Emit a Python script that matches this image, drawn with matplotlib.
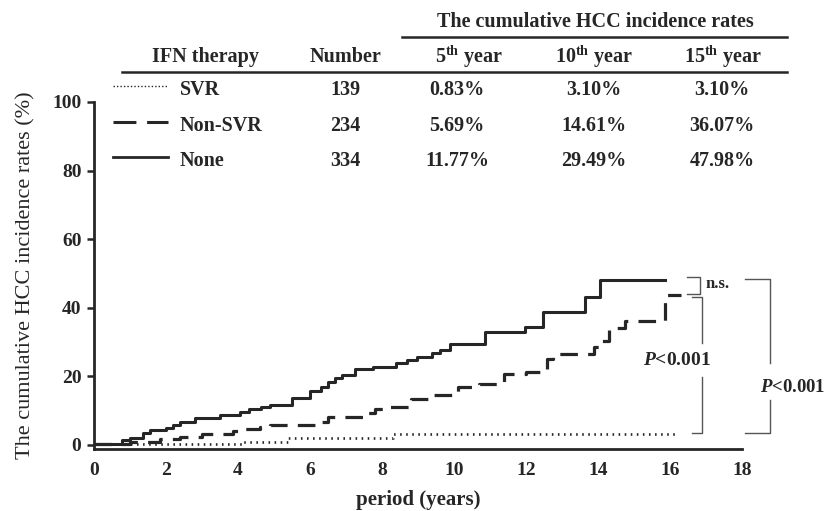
import matplotlib
matplotlib.use("Agg")
import matplotlib.pyplot as plt
from matplotlib.lines import Line2D

plt.rcParams['font.family'] = ['Liberation Serif', 'DejaVu Serif']
plt.rcParams['mathtext.fontset'] = 'custom'
plt.rcParams['mathtext.rm'] = 'Liberation Serif:bold'
plt.rcParams['mathtext.it'] = 'Liberation Serif:italic:bold'
plt.rcParams['mathtext.bf'] = 'Liberation Serif:bold'

INK = '#262626'

# ---- data ----
none_t = [0, 0.78, 1.0, 1.36, 1.55, 2.0, 2.2, 2.4, 2.8, 3.5, 4.05, 4.3, 4.65, 4.9, 5.5,
          6.0, 6.3, 6.5, 6.7, 6.9, 7.25, 7.75, 8.4, 8.7, 8.97, 9.4, 9.6, 9.88, 10.86,
          11.97, 12.47, 13.64, 14.05, 15.86]
none_v = [0.3, 1.4, 2.1, 3.4, 4.3, 4.9, 5.7, 6.6, 7.8, 8.6, 9.6, 10.5, 11.0, 11.77, 13.6,
          15.8, 16.8, 18.3, 19.5, 20.3, 22.0, 22.6, 23.8, 24.7, 25.7, 26.7, 27.6, 29.49, 32.8,
          34.5, 38.8, 43.1, 47.98, 47.98]

nonsvr_t = [0, 1.0, 1.83, 2.4, 3.0, 3.85, 4.1, 4.6, 4.9, 6.2, 6.5, 7.5, 7.8, 8.1, 8.8,
            9.4, 10.1, 10.7, 11.4, 12.0, 12.58, 12.75, 13.9, 14.05, 14.3, 14.75, 15.86, 16.3]
nonsvr_v = [0.3, 0.7, 1.7, 2.4, 3.2, 4.0, 4.6, 5.2, 5.69, 6.7, 8.0, 9.2, 10.6, 11.0, 13.5,
            14.61, 16.8, 17.9, 20.7, 21.2, 25.0, 26.4, 28.5, 30.2, 34.0, 36.07, 43.7, 43.7]

svr_t = [0, 4.1, 5.4, 8.3, 16.2]
svr_v = [0.3, 0.83, 2.1, 3.1, 3.1]

groups = ['SVR', 'Non-SVR', 'None']
numbers = ['139', '234', '334']
rate_cols = ['5$^{\\mathrm{th}}$ year', '10$^{\\mathrm{th}}$ year', '15$^{\\mathrm{th}}$ year']
rates = [['0.83%', '3.10%', '3.10%'],
         ['5.69%', '14.61%', '36.07%'],
         ['11.77%', '29.49%', '47.98%']]

xticks = [0, 2, 4, 6, 8, 10, 12, 14, 16, 18]
yticks = [0, 20, 40, 60, 80, 100]

W, H = 827, 511
fig = plt.figure(figsize=(W / 100, H / 100), dpi=100)

def fx(px):
    return px / W

def fy(py):
    return 1 - py / H

ax = fig.add_axes([fx(94), fy(449), fx(742) - fx(94), fy(102) - fy(449)])
ax.set_xlim(0, 18)
ax.set_ylim(-1.2, 100)

styles = {
    'None': dict(color=INK, lw=2.2, linestyle='-'),
    'Non-SVR': dict(color=INK, lw=2.3, linestyle=(0, (5.5, 3.2))),
    'SVR': dict(color=INK, lw=1.9, linestyle=(0, (0.6, 1.7))),
}
ax.step(svr_t, svr_v, where='post', **styles['SVR'])
ax.step(nonsvr_t, nonsvr_v, where='post', **styles['Non-SVR'])
ax.step(none_t, none_v, where='post', **styles['None'])

for s in ['top', 'right']:
    ax.spines[s].set_visible(False)
for s in ['left', 'bottom']:
    ax.spines[s].set_linewidth(2.0)
    ax.spines[s].set_color(INK)
ax.spines['left'].set_bounds(-1.2, 100)

ax.set_xticks(xticks)
ax.set_yticks(yticks)
ax.tick_params(axis='x', length=0, pad=9, labelsize=14, colors=INK)
ax.tick_params(axis='y', length=5, width=1.8, pad=4, labelsize=14, colors=INK, direction='out')
for lab in ax.get_xticklabels() + ax.get_yticklabels():
    lab.set_fontweight('bold')

ax.set_xlabel('period (years)', fontsize=15, fontweight='bold', color=INK, labelpad=8)
ax.set_ylabel('The cumulative HCC incidence rates (%)', fontsize=16, color=INK, labelpad=12)

# ---- significance brackets ----
bk = dict(color='#555555', lw=1.0, clip_on=False)
# n.s.
ax.plot([16.47, 16.83, 16.83, 16.47], [48.9, 48.9, 43.9, 43.9], **bk)
ax.text(17.0, 47.0, 'n.s.', fontsize=12, fontweight='bold', color=INK, va='center', ha='left')
# inner
ax.plot([16.6, 16.9, 16.9], [43.2, 43.2, 29.6], **bk)
ax.plot([16.9, 16.9, 16.6], [19.8, 3.5, 3.5], **bk)
ax.text(16.2, 24.5, '$P$<0.001', fontsize=14, fontweight='bold', color=INK, va='center', ha='center')
# outer
ax.plot([18.08, 18.78, 18.78], [48.4, 48.4, 24.0], **bk)
ax.plot([18.78, 18.78, 18.08], [13.0, 3.4, 3.4], **bk)
fig.text(fx(825), fy(387), '$P$<0.001', fontsize=13.5, fontweight='bold', color=INK,
         va='center', ha='right')

# ---- table ----
tk = dict(fontsize=14.5, fontweight='bold', color=INK, va='center')
fig.text(fx(595), fy(22), 'The cumulative HCC incidence rates', ha='center', **tk)
fig.add_artist(Line2D([fx(402), fx(787)], [fy(37), fy(37)], color=INK, lw=1.8))
fig.text(fx(205), fy(57), 'IFN therapy', ha='center', **tk)
fig.text(fx(345), fy(57), 'Number', ha='center', **tk)
col_x = [457, 594, 722]
head_x = [469, 594, 723]
for hx, h in zip(head_x, rate_cols):
    fig.text(fx(hx), fy(57), h, ha='center', **tk)
fig.add_artist(Line2D([fx(122), fx(787)], [fy(72), fy(72)], color=INK, lw=1.8))

row_y = [90, 126, 161]
leg_styles = {
    'SVR': dict(color=INK, lw=1.0, linestyle=(0, (1, 1.5))),
    'Non-SVR': dict(color=INK, lw=2.2, linestyle=(0, (7.5, 3.5))),
    'None': dict(color=INK, lw=2.0, linestyle='-'),
}
for g, n, r, yy in zip(groups, numbers, rates, row_y):
    fig.add_artist(Line2D([fx(113), fx(168)], [fy(yy - 4), fy(yy - 4)], **leg_styles[g]))
    fig.text(fx(180), fy(yy), g, ha='left', **tk)
    fig.text(fx(345), fy(yy), n, ha='center', **tk)
    for cx, v in zip(col_x, r):
        fig.text(fx(cx), fy(yy), v, ha='center', **tk)

fig.savefig('out.png', dpi=100)
